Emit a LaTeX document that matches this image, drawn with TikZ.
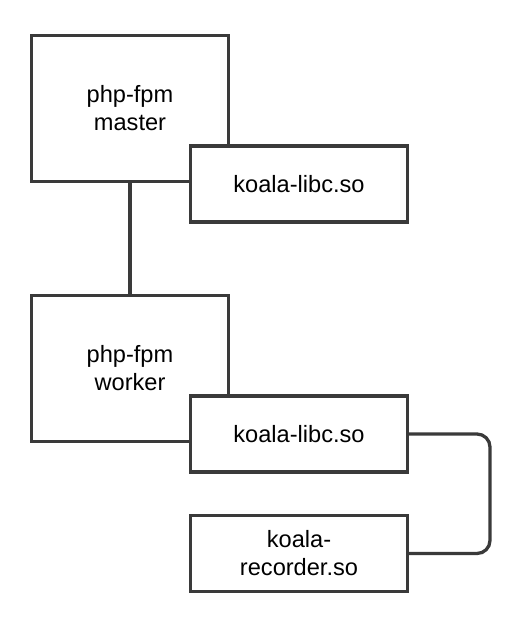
\documentclass[tikz,border=0pt]{standalone}
\usepackage{fontspec}
\setmainfont{Liberation Sans}
\usetikzlibrary{positioning,calc}
\definecolor{edgegray}{HTML}{3A3A3A}
\tikzset{
	procbox/.style={draw=edgegray, fill=white, line width=3.3pt, minimum width=197pt, minimum height=146pt, align=center, inner sep=0pt},
	libbox/.style={draw=edgegray, fill=white, line width=3.3pt, minimum width=217pt, minimum height=76pt, align=center, inner sep=0pt},
	link/.style={draw=edgegray, line width=3.3pt},
	lbl/.style={font=\fontsize{23.6}{28}\selectfont}
}
\begin{document}
\begin{tikzpicture}[x=1pt,y=-1pt]
		\useasboundingbox (0,0) rectangle (524,622);
		\coordinate (bend) at(490,0);
		\node[procbox, lbl] (master) at(130,108.5) {php-fpm\\master};
		\node[libbox, lbl] (libcA) at(299,184) {koala-libc.so};
		\node[procbox, lbl] (worker) at(130,368.5) {php-fpm\\worker};
		\node[libbox, lbl] (libcB) at(299,434) {koala-libc.so};
		\node[libbox, lbl] (recorder) at(299,553.5) {koala-\\recorder.so};
		\draw[link] (master.south) -- (worker.north);
		\draw[link, rounded corners=13pt] (libcB.east) -- (libcB.east -| bend) -- (recorder.east -| bend) -- (recorder.east);
	\end{tikzpicture}
\end{document}
